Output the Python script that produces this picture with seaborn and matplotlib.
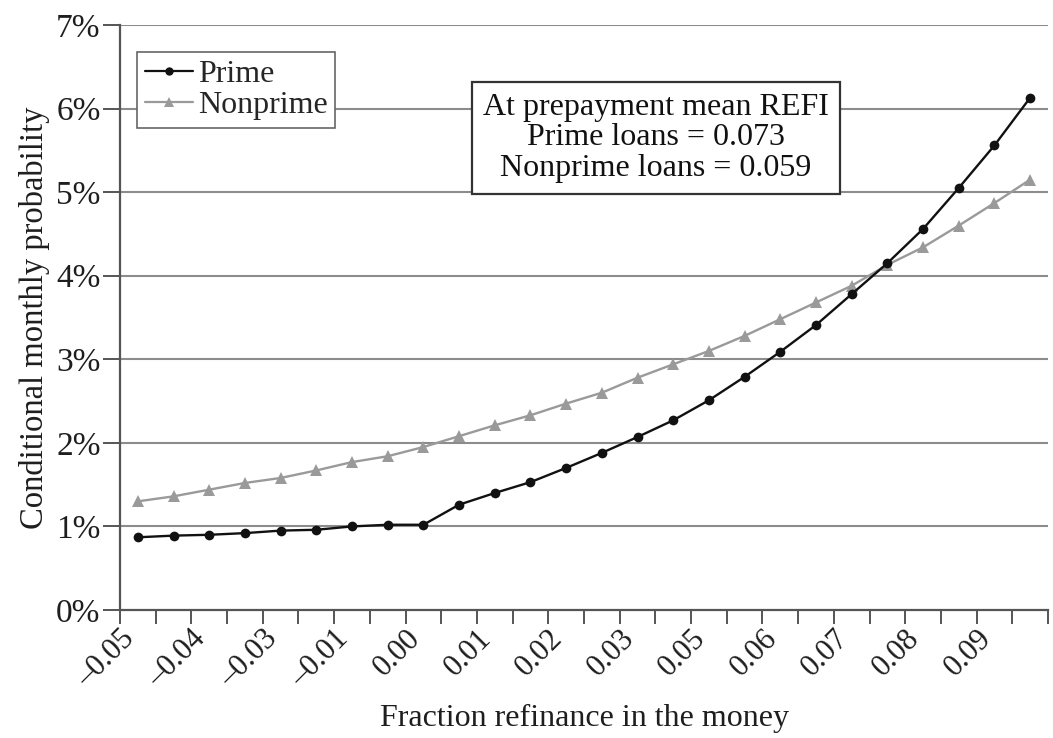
import numpy as np
import pandas as pd
import matplotlib
matplotlib.use("Agg")
import matplotlib.pyplot as plt
from matplotlib.lines import Line2D
from matplotlib.transforms import ScaledTranslation
import seaborn as sns

# Fraction of the refinance option that is in the money (category axis)
refi = [-0.050, -0.044, -0.038, -0.032, -0.026, -0.020, -0.014, -0.008, -0.002,
        0.004, 0.010, 0.016, 0.022, 0.028, 0.034, 0.040, 0.046, 0.052, 0.058,
        0.064, 0.070, 0.076, 0.082, 0.088, 0.094, 0.100]

# Conditional monthly prepayment probability, in percent
prime = [0.87, 0.89, 0.90, 0.92, 0.95, 0.96, 1.00, 1.02, 1.02, 1.26, 1.40,
         1.53, 1.70, 1.88, 2.07, 2.27, 2.51, 2.79, 3.09, 3.41, 3.78, 4.15,
         4.56, 5.05, 5.56, 6.13]
nonprime = [1.30, 1.36, 1.44, 1.52, 1.58, 1.67, 1.77, 1.84, 1.95, 2.08, 2.21,
            2.33, 2.47, 2.60, 2.78, 2.94, 3.10, 3.28, 3.48, 3.68, 3.88, 4.13,
            4.34, 4.60, 4.87, 5.15]

# Every other category carries a label
tick_labels = ["\u20130.05", "\u20130.04", "\u20130.03", "\u20130.01", "0.00", "0.01",
               "0.02", "0.03", "0.05", "0.06", "0.07", "0.08", "0.09"]

sns.set_style("white")
plt.rcParams["font.family"] = ["Liberation Serif", "DejaVu Serif"]

pos = np.arange(len(refi))
df = pd.DataFrame({"pos": pos, "refi": refi, "Prime": prime, "Nonprime": nonprime})

fig = plt.figure(figsize=(10.53, 7.38), dpi=100)
ax = fig.add_axes([120 / 1053, 1 - 610 / 738, 928 / 1053, 585 / 738])

black = "#111111"
grey = "#9a9a9a"
txt = "#1e1e1e"

sns.lineplot(data=df, x="pos", y="Nonprime", ax=ax, color=grey, lw=1.7,
             marker="^", markersize=9, markeredgewidth=0, markerfacecolor=grey,
             zorder=3)
sns.lineplot(data=df, x="pos", y="Prime", ax=ax, color=black, lw=1.7,
             marker="o", markersize=7, markeredgewidth=0, markerfacecolor=black,
             zorder=4)

ax.set_xlim(-0.5, len(refi) - 0.5)
ax.set_ylim(0, 7)

# horizontal grid
for v in range(1, 8):
    ax.axhline(v, color="#8c8c8c", lw=1.5, zorder=1)

ax.set_yticks(range(0, 8))
ax.set_yticklabels([f"{v}%" for v in range(0, 8)], fontsize=24, color=txt)
ax.tick_params(axis="y", direction="out", length=12, width=1.4, color="#555555",
               pad=2, left=True)

# tick marks at category boundaries, labels on alternate categories
ax.set_xticks(np.arange(len(refi) + 1) - 0.5)
ax.set_xticklabels([])
ax.tick_params(axis="x", which="major", direction="out", length=10, width=1.4,
               color="#555555", bottom=True)
ax.set_xticks(pos[::2], minor=True)
ax.set_xticklabels(tick_labels, minor=True, rotation=45, ha="right",
                   rotation_mode="anchor", fontsize=22, color=txt)
ax.tick_params(axis="x", which="minor", length=0, pad=10)
shift = ScaledTranslation(-18 / 100, 0, fig.dpi_scale_trans)
for lab in ax.get_xticklabels(minor=True):
    lab.set_transform(lab.get_transform() + shift)

for s in ["top", "right"]:
    ax.spines[s].set_visible(False)
for s in ["left", "bottom"]:
    ax.spines[s].set_color("#555555")
    ax.spines[s].set_linewidth(1.6)

ax.set_xlabel("Fraction refinance in the money", fontsize=23, color=txt,
              va="center")
ax.xaxis.set_label_coords(0.5, (610 - 718) / 585)
ax.set_ylabel("Conditional monthly probability", fontsize=23.5, color=txt,
              labelpad=4)

handles = [Line2D([], [], color=black, lw=1.6, marker="o", markersize=6,
                  markeredgewidth=0),
           Line2D([], [], color=grey, lw=1.6, marker="^", markersize=7.5,
                  markeredgewidth=0)]
leg = ax.legend(handles, ["Prime", "Nonprime"], loc="upper left",
                bbox_to_anchor=(17 / 928, (610 - 52) / 585), borderaxespad=0,
                fontsize=23, frameon=True, fancybox=False, handlelength=1.5,
                handletextpad=0.15, borderpad=0.25, labelspacing=0.05)
leg.get_frame().set_edgecolor("#666666")
leg.get_frame().set_linewidth(1.2)
leg.get_frame().set_alpha(1)

ax.text((656 - 120) / 928, (610 - 138) / 585,
        "At prepayment mean REFI\nPrime loans = 0.073\nNonprime loans = 0.059",
        transform=ax.transAxes, ha="center", va="center", multialignment="center",
        fontsize=23, color="#111111", linespacing=1.05, zorder=5,
        bbox=dict(boxstyle="square,pad=0.35", facecolor="white",
                  edgecolor="#333333", linewidth=1.6))

fig.savefig("out.png", dpi=100)
